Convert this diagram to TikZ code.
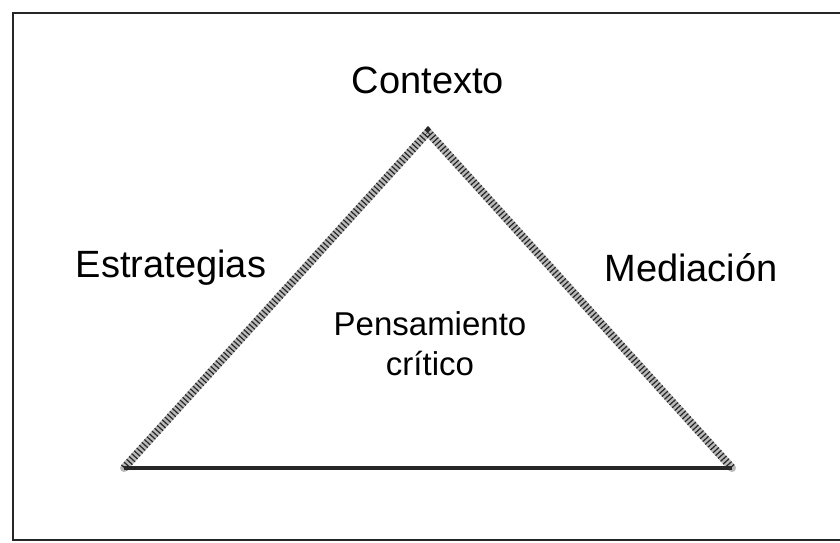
\documentclass[tikz,border=0pt]{standalone}
\usepackage{fontspec}
\setmainfont{Liberation Sans}
\usetikzlibrary{positioning}

\begin{document}
\begin{tikzpicture}[x=1pt, y=-1pt, thick]
    \tikzstyle{label} = [font=\fontsize{38}{40}\selectfont, inner sep=0pt, align=center]
    \tikzstyle{side} = [draw, line width=8pt, gray!55, line cap=round]
    \tikzstyle{grain} = [draw, line width=8pt, black!85, dash pattern=on 1.2pt off 2.6pt]
    \tikzstyle{base} = [draw, line width=4pt, black!85]
    \tikzstyle{frame} = [draw, line width=2.5pt, black!85]

    \useasboundingbox (0,0) rectangle (840,543);

    % outer frame (open on the right)
    \coordinate (tr) at (840,13);
    \coordinate (tl) at (13,13);
    \coordinate (bl) at (13,540);
    \coordinate (br) at (840,540);
    \path [frame] (tr) -- (tl) -- (bl) -- (br);

    % triangle corners
    \coordinate (apex) at (428,132);
    \coordinate (left) at (124,468);
    \coordinate (right) at (732,468);

    \path [side] (left) -- (apex) -- (right);
    \path [grain] (left) -- (apex) -- (right);
    \path [base] (left) -- (right);

    \node [label] (contexto) at (428,80) {Contexto};
    \node [label] (estrategias) at (171,268) {Estrategias};
    \node [label] (mediacion) at (691,268) {Mediación};
    \node [label, font=\fontsize{33}{40}\selectfont] (pensamiento) at (430,344) {Pensamiento\\crítico};
\end{tikzpicture}
\end{document}
